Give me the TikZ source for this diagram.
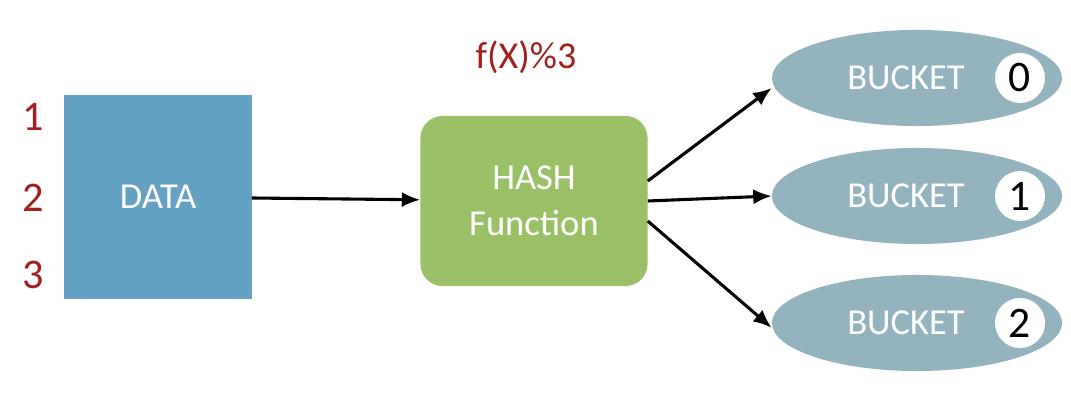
\documentclass[tikz,border=0pt]{standalone}
\usepackage{fontspec}
\setmainfont{Carlito}
\usetikzlibrary{shapes.geometric, arrows.meta, positioning}
\definecolor{datablue}{HTML}{64A1C3}
\definecolor{hashgreen}{HTML}{9BC168}
\definecolor{bucketblue}{HTML}{93B3BE}
\definecolor{keyred}{HTML}{A31F1F}

\begin{document}
\begin{tikzpicture}[
    x=0.025cm, y=-0.025cm,
    font=\fontsize{26}{33}\selectfont,
    databox/.style={rectangle, fill=datablue, minimum width=4.675cm, minimum height=5.075cm, text=white},
    hashbox/.style={rectangle, rounded corners=0.55cm, fill=hashgreen, minimum width=5.675cm, minimum height=4.25cm, align=center, text=white},
    bucket/.style={ellipse, fill=bucketblue, minimum width=7.25cm, minimum height=2.4cm, inner sep=0pt},
    slot/.style={circle, fill=white, minimum size=1.25cm, inner sep=0pt, font=\fontsize{31}{32}\selectfont},
    key/.style={text=keyred, font=\fontsize{30}{32}\selectfont},
    arrow/.style={-{Latex[length=4.6mm, width=3.8mm]}, line width=2.2pt}
]
    \useasboundingbox[fill=white] (0,0) rectangle (1071,406);

    % Nodes
    \node[databox] (data) at (158,197) {DATA};
    \node[key] (k1) at (33,117) {1};
    \node[key] (k2) at (33,198) {2};
    \node[key] (k3) at (33,275) {3};
    \node[hashbox] (hash) at (534,201) {HASH\\Function};
    \node[text=keyred, font=\fontsize{27}{30}\selectfont] (mod) at (526,57) {f(X)\%3};

    \foreach \i/\y in {0/78, 1/196, 2/323} {
        \node[bucket] (b\i) at (917,\y) {};
        \node[text=white] (t\i) at (906,\y) {BUCKET};
        \node[slot] (s\i) at (1020,\y) {\i};
    }

    % Arrows
    \draw[arrow] (data) -- (hash);
    \draw[arrow] (hash.10) -- ([yshift=-0.25cm]b0.west);
    \draw[arrow] (hash.east) -- (b1.west);
    \draw[arrow] (hash.-10) -- ([yshift=-0.12cm]b2.west);
\end{tikzpicture}
\end{document}
